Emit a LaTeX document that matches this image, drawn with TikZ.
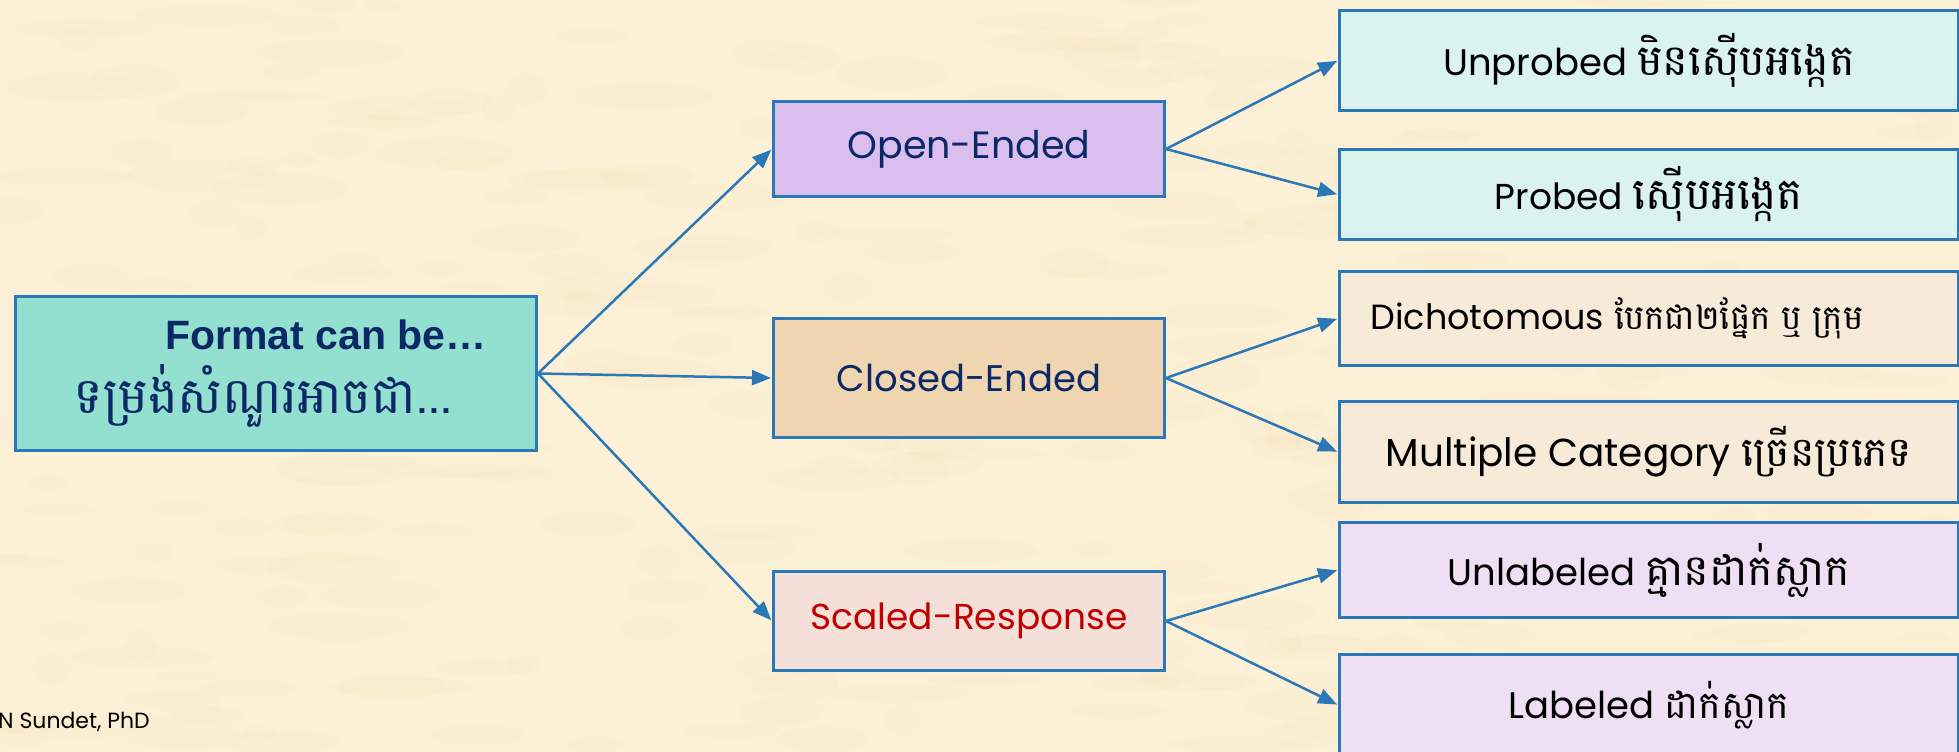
\documentclass[tikz,border=0pt]{standalone}
\usepackage{fontspec}
\usetikzlibrary{arrows.meta}
\setmainfont{Poppins}
\newfontfamily\headfont{Liberation Sans}
\newfontfamily\khmer[Script=Khmer]{Battambang}

\definecolor{paper}{HTML}{FCF0D6}
\definecolor{paperspot}{HTML}{F1DBAA}
\definecolor{edge}{HTML}{2B78B8}
\definecolor{navy}{HTML}{0D2866}
\definecolor{redtxt}{HTML}{C00000}
\definecolor{rootfill}{HTML}{93DFD0}
\definecolor{openfill}{HTML}{DABEEE}
\definecolor{closedfill}{HTML}{EFD5B0}
\definecolor{scaledfill}{HTML}{F4E0D8}
\definecolor{tealleaf}{HTML}{DAF3EF}
\definecolor{beigeleaf}{HTML}{F7EAD9}
\definecolor{lilacleaf}{HTML}{EEDFF5}

\newcommand{\kh}[2]{{\khmer\fontsize{#1}{#1}\selectfont #2}}
\newcommand{\lt}[1]{\fontsize{#1}{#1}\selectfont}

\tikzset{
  box/.style={draw=edge, line width=3pt, inner sep=0pt, anchor=north west},
  midbox/.style={box, minimum width=391pt, text=navy},
  leafbox/.style={box, minimum width=619pt, text=black},
  link/.style={draw=edge, line width=2.5pt, -{Triangle[length=19pt,width=15pt]}, shorten >=1pt}
}

\begin{document}
\begin{tikzpicture}[x=1pt,y=-1pt]
  % page and parchment background
  \useasboundingbox (0,0) rectangle (1959,752);
  \fill[paper] (0,0) rectangle (1959,752);
  \pgfmathsetseed{4127}
  \foreach \i in {1,...,320}{
    \pgfmathsetmacro\px{rnd*1959}
    \pgfmathsetmacro\py{rnd*752}
    \pgfmathsetmacro\rx{15+rnd*60}
    \pgfmathsetmacro\ry{5+rnd*12}
    \fill[paperspot, opacity=0.08] (\px,\py) ellipse [x radius=\rx, y radius=\ry];
  }

  % root
  \node[box, fill=rootfill, minimum width=521pt, minimum height=154pt, text=navy, align=center,
        font=\fontsize{44}{64}\selectfont]
    (root) at (14,295) {\hspace*{100pt}{\headfont\bfseries\fontsize{41}{64}\selectfont Format can be…}\\
      {\khmer\fontsize{50}{64}\selectfont ទម្រង់សំណួរអាចជា...}\hspace*{26pt}\vphantom{\rule[-8pt]{0pt}{1pt}}};

  % second level
  \node[midbox, fill=openfill, minimum height=95pt, font=\lt{38}] (open) at (772,100) {Open-Ended};
  \node[midbox, fill=closedfill, minimum height=119pt, font=\lt{37}] (closed) at (772,317) {Closed-Ended};
  \node[midbox, fill=scaledfill, minimum height=99pt, text=redtxt, font=\lt{36}] (scaled) at (772,570) {Scaled-Response};

  % leaves
  \node[leafbox, fill=tealleaf, minimum height=100pt, font=\lt{37}] (unprobed) at (1338,9)
    {Unprobed \kh{43}{មិនស៊ើបអង្កេត}};
  \node[leafbox, fill=tealleaf, minimum height=90pt, font=\lt{36}] (probed) at (1338,148)
    {Probed \kh{44}{ស៊ើបអង្កេត}};
  \node[leafbox, fill=beigeleaf, minimum height=94pt, font=\lt{35}] (dicho) at (1338,270)
    {Dichotomous\hspace{10pt}\kh{34}{បែកជា២ផ្នែក\hspace{11pt}ឬ\hspace{11pt}ក្រុម}\hspace*{64pt}};
  \node[leafbox, fill=beigeleaf, minimum height=101pt, font=\lt{39}] (multi) at (1338,400)
    {Multiple Category \kh{41}{ច្រើនប្រភេទ}};
  \node[leafbox, fill=lilacleaf, minimum height=95pt, font=\lt{37}] (unlab) at (1338,521)
    {Unlabeled \kh{43}{គ្មានដាក់ស្លាក}};
  \node[leafbox, fill=lilacleaf, minimum height=101pt, font=\lt{37}] (lab) at (1338,653)
    {Labeled \kh{38}{ដាក់ស្លាក}};

  % connectors
  \draw[link] (root.east) -- (open.west);
  \draw[link] (root.east) -- (closed.west);
  \draw[link] (root.east) -- (scaled.west);
  \draw[link] (open.east) -- (unprobed.west);
  \draw[link] (open.east) -- (probed.west);
  \draw[link] (closed.east) -- (dicho.west);
  \draw[link] (closed.east) -- (multi.west);
  \draw[link] (scaled.east) -- (unlab.west);
  \draw[link] (scaled.east) -- (lab.west);

  % footer
  \node[anchor=west, inner sep=0pt, font=\lt{22}] (credit) at (-2,722) {N Sundet, PhD};
\end{tikzpicture}
\end{document}
